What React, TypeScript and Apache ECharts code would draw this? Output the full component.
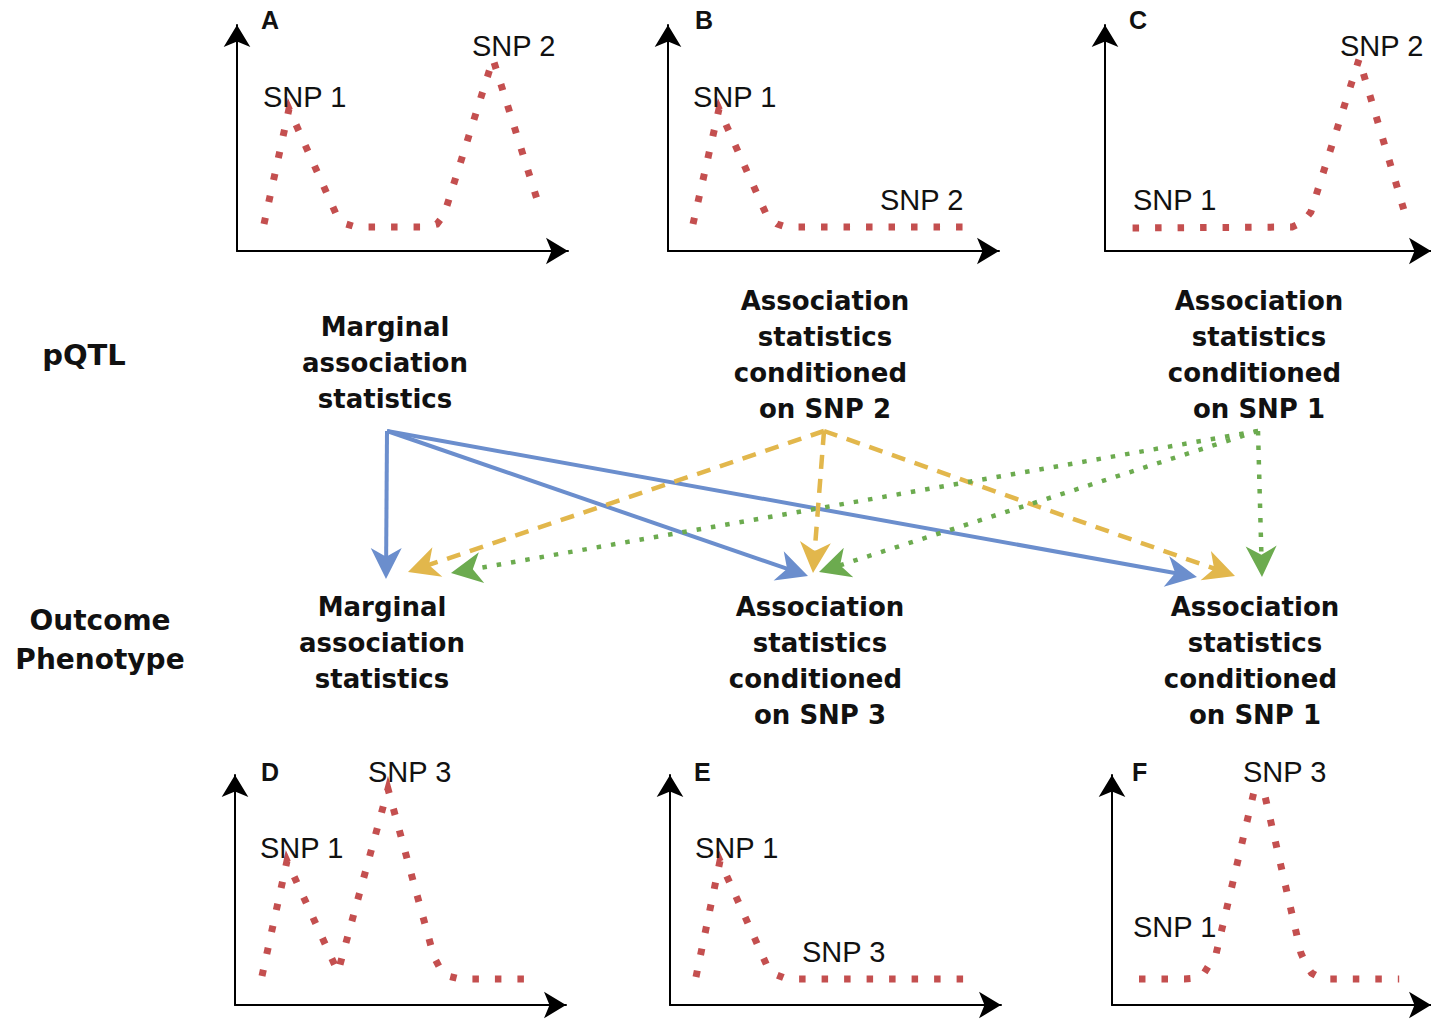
import React, { useEffect, useRef } from 'react';
import * as echarts from 'echarts';

// ---- data: association curves, [position, strength] offsets from each panel origin ----
const curveA = [[27, 27], [52, 142], [100, 35], [109, 27], [119, 24], [187, 24], [200, 27], [207, 36], [256, 192], [304, 39]];
const curveB = [[25, 27], [51, 142], [99, 35], [109, 27], [118, 24], [304, 24]];
const curveC = [[28, 23], [190, 24], [201, 29], [209, 39], [258, 192], [305, 36]];
const curveD = [[27, 29], [52, 144], [103, 33], [153, 216], [199, 48], [206, 35], [213, 29], [225, 26], [303, 26]];
const curveE = [[26, 28], [50, 144], [98, 37], [107, 30], [117, 26], [302, 26]];
const curveF = [[28, 26], [75, 26], [88, 27], [95, 31], [108, 51], [147, 212], [158, 212], [196, 52], [202, 39], [207, 32], [218, 26], [298, 26]];

const panelLetters = ['A', 'B', 'C', 'D', 'E', 'F'];
const panelCurves = [curveA, curveB, curveC, curveD, curveE, curveF];
const panelSnpLabels = [
  ['SNP 1', 'SNP 2'],
  ['SNP 1', 'SNP 2'],
  ['SNP 1', 'SNP 2'],
  ['SNP 1', 'SNP 3'],
  ['SNP 1', 'SNP 3'],
  ['SNP 1', 'SNP 3'],
];

const rowLabels = ['pQTL', 'Outcome\nPhenotype'];
const topBlocks = ['Marginal\nassociation\nstatistics', 'Association\nstatistics\nconditioned \non SNP 2', 'Association\nstatistics\nconditioned \non SNP 1'];
const bottomBlocks = ['Marginal\nassociation\nstatistics', 'Association\nstatistics\nconditioned \non SNP 3', 'Association\nstatistics\nconditioned \non SNP 1'];

// ---- layout ----
const PW = 331;
const panelLayout = [
  { ox: 237, oy: 251, h: 226, letter: [261, 20], labels: [[263, 97], [472, 46]] },
  { ox: 668, oy: 251, h: 226, letter: [695, 20], labels: [[693, 97], [880, 200]] },
  { ox: 1105, oy: 251, h: 226, letter: [1129, 20], labels: [[1133, 200], [1340, 46]] },
  { ox: 235, oy: 1005, h: 230, letter: [261, 772], labels: [[260, 848], [368, 772]] },
  { ox: 670, oy: 1005, h: 230, letter: [694, 772], labels: [[695, 848], [802, 952]] },
  { ox: 1112, oy: 1005, h: 230, letter: [1132, 772], labels: [[1133, 927], [1243, 772]] },
];
const topBlockPos = [[385, 363], [825, 355], [1259, 355]];
const bottomBlockPos = [[382, 643], [820, 661], [1255, 661]];

// arrows: source and tip points on the page
const arrowSources = [[387, 431], [824, 431], [1258, 431]];
const arrowTips = [
  [[386, 579], [808, 576], [1197, 577]],
  [[408, 572], [813, 573], [1235, 576]],
  [[451, 573], [819, 572], [1262, 577]],
];
const arrowStyles = [
  { color: '#6b8ecd', width: 4, type: 'solid' as any },
  { color: '#e2b74c', width: 4.5, type: [14, 10] as any },
  { color: '#6cab4f', width: 4.5, type: [4.5, 10] as any },
];
const HEAD = 31;

const RED = '#c44f4f';

export default function App() {
  const ref = useRef<HTMLDivElement>(null);
  useEffect(() => {
    if (!ref.current) return;
    const chart = echarts.init(ref.current, null, { renderer: 'svg' });

    const grids: any[] = [];
    const xAxes: any[] = [];
    const yAxes: any[] = [];
    const series: any[] = [];
    const graphics: any[] = [];

    panelLayout.forEach((p, i) => {
      grids.push({ left: p.ox, top: p.oy - p.h, width: PW, height: p.h, containLabel: false });
      const axisLine = {
        show: true,
        symbol: ['none', 'arrow'],
        symbolSize: [20, 22],
        lineStyle: { color: '#000', width: 2 },
      };
      xAxes.push({
        type: 'value', gridIndex: i, min: 0, max: PW,
        axisLine, axisTick: { show: false }, axisLabel: { show: false }, splitLine: { show: false },
      });
      yAxes.push({
        type: 'value', gridIndex: i, min: 0, max: p.h,
        axisLine, axisTick: { show: false }, axisLabel: { show: false }, splitLine: { show: false },
      });
      series.push({
        type: 'line', xAxisIndex: i, yAxisIndex: i,
        data: panelCurves[i], symbol: 'none', showSymbol: false, smooth: false,
        lineStyle: { color: RED, width: 7, type: [6.5, 16], cap: 'butt', join: 'miter' },
        silent: true, z: 3,
      });
      graphics.push({
        type: 'text', x: p.letter[0], y: p.letter[1], z: 10,
        style: {
          text: panelLetters[i], fill: '#111', fontSize: 25, fontWeight: 'bold', fontFamily: 'Liberation Sans',
          align: 'left', verticalAlign: 'middle', textAlign: 'left', textVerticalAlign: 'middle',
        },
      });
      p.labels.forEach((pos, j) => {
        graphics.push({
          type: 'text', x: pos[0], y: pos[1], z: 10,
          style: {
            text: panelSnpLabels[i][j], fill: '#111', fontSize: 29, fontFamily: 'Liberation Sans',
            align: 'left', verticalAlign: 'middle', textAlign: 'left', textVerticalAlign: 'middle',
          },
        });
      });
    });

    // full page coordinate system for the arrows
    const pageIdx = panelLayout.length;
    grids.push({ left: 0, top: 0, width: 1431, height: 1019 });
    xAxes.push({ type: 'value', gridIndex: pageIdx, min: 0, max: 1431, show: false });
    yAxes.push({ type: 'value', gridIndex: pageIdx, min: 0, max: 1019, inverse: true, show: false });

    const nodes: any[] = [];
    const links: any[] = [];
    arrowSources.forEach((s, k) => {
      const srcIdx = nodes.length;
      nodes.push({ name: 'src' + k, value: s });
      arrowTips[k].forEach((t, i) => {
        const dx = t[0] - s[0];
        const dy = t[1] - s[1];
        const L = Math.hypot(dx, dy);
        const e = [t[0] - (dx / L) * HEAD / 2, t[1] - (dy / L) * HEAD / 2];
        const tIdx = nodes.length;
        nodes.push({ name: 'tgt' + k + '_' + i, value: e });
        links.push({
          source: srcIdx, target: tIdx,
          lineStyle: { color: arrowStyles[k].color, width: arrowStyles[k].width, type: arrowStyles[k].type, curveness: 0, opacity: 1 },
        });
      });
    });
    series.push({
      type: 'graph', coordinateSystem: 'cartesian2d', xAxisIndex: pageIdx, yAxisIndex: pageIdx,
      symbolSize: 0, label: { show: false }, silent: true,
      edgeSymbol: ['none', 'path://M14,0L28,28L14,20L0,28Z'],
      edgeSymbolSize: HEAD,
      data: nodes, links, z: 2,
    });

    const boldText = (text: string, x: number, y: number, size: number, lh: number) => ({
      type: 'text', x, y, z: 10,
      style: {
        text, fill: '#111', fontSize: size, fontWeight: 'bold', fontFamily: 'DejaVu Sans', lineHeight: lh,
        align: 'center', verticalAlign: 'middle', textAlign: 'center', textVerticalAlign: 'middle',
      },
    });
    topBlocks.forEach((t, i) => graphics.push(boldText(t, topBlockPos[i][0], topBlockPos[i][1], 26, 36)));
    bottomBlocks.forEach((t, i) => graphics.push(boldText(t, bottomBlockPos[i][0], bottomBlockPos[i][1], 26, 36)));
    graphics.push(boldText(rowLabels[0], 84, 355, 29, 39));
    graphics.push(boldText(rowLabels[1], 100, 640, 28, 39));

    chart.setOption({
      animation: false,
      backgroundColor: '#fff',
      grid: grids,
      xAxis: xAxes,
      yAxis: yAxes,
      series,
      graphic: { elements: graphics },
    });
    return () => chart.dispose();
  }, []);
  return (
    <div
      ref={ref}
      style={{ position: 'fixed', left: 0, top: 0, width: 1431, height: 1019, background: '#fff' }}
    />
  );
}
